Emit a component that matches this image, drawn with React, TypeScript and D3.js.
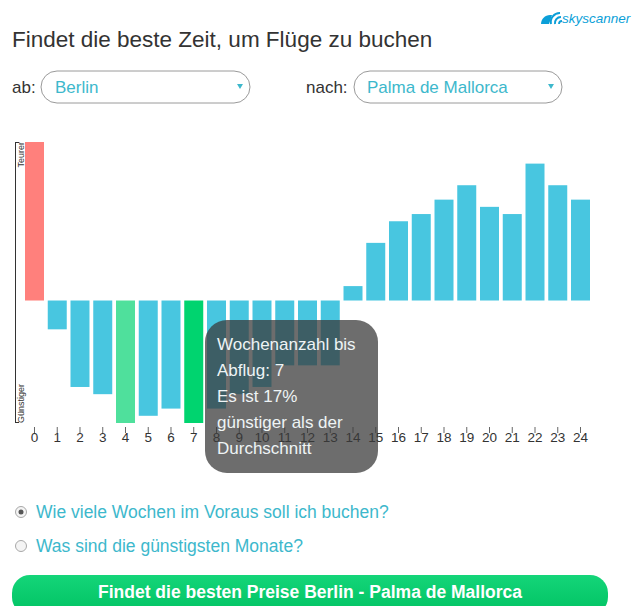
import React from 'react';
import * as d3 from 'd3';

// weeks before departure and price deviation from average (%)
const weeks = d3.range(0, 25).map(String);
const deviation = [22, -4, -12, -13, -17, -16, -15, -17, -15, -13, -12, -9, -9, -9, 2, 8, 11, 12, 14, 16, 13, 12, 19, 16, 14];
const hoveredWeek = 7;
const tooltipLines = ['Wochenanzahl bis', 'Abflug: 7', 'Es ist 17%', 'günstiger als der', 'Durchschnitt'];
const questions = ['Wie viele Wochen im Voraus soll ich buchen?', 'Was sind die günstigsten Monate?'];

const FONT = '"Liberation Sans", Arial, sans-serif';
const TEAL = '#3db8cc';

const App: React.FC = () => {
  const x = d3.scaleBand<string>().domain(weeks).range([25, 590]).paddingInner(0.165).paddingOuter(0);
  const y = d3
    .scaleLinear()
    .domain([d3.min(deviation) ?? 0, d3.max(deviation) ?? 1])
    .range([423, 142]);

  const maxIdx = d3.maxIndex(deviation);
  const minIdx = d3.minIndex(deviation);
  const colorFor = (i: number) => {
    if (i === maxIdx) return '#ff807c';
    if (i === hoveredWeek) return '#00d46f';
    if (i === minIdx) return '#4fe09c';
    return '#48c6e0';
  };

  const [y0, y1] = y.range();

  return (
    <svg
      width={640}
      height={606}
      style={{ position: 'absolute', left: 0, top: 0, fontFamily: FONT }}
    >
      <rect width={640} height={606} fill="#fff" />

      {/* logo */}
      <g fill="#0b9fd8">
        <path d="M541,24 C541,19 545,15 550,15 L552,15 L549,24 Z" />
        <path d="M551,24 A9,9 0 0 1 560,13" fill="none" stroke="#0b9fd8" strokeWidth={2} />
        <path d="M555,24 A6,6 0 0 1 561,17" fill="none" stroke="#0b9fd8" strokeWidth={2} />
        <path d="M559,24 A3,3 0 0 1 562,21" fill="none" stroke="#0b9fd8" strokeWidth={1.8} />
        <text x={562} y={23} fontSize={13.5} fontStyle="italic" fill="#0b9fd8">skyscanner</text>
      </g>

      <text x={12} y={47} fontSize={22.5} fill="#333">Findet die beste Zeit, um Flüge zu buchen</text>

      {/* selects */}
      <text x={12} y={93} fontSize={17} fill="#333">ab:</text>
      <rect x={41} y={71} width={209} height={32} rx={16} fill="#fff" stroke="#9a9a9a" />
      <text x={55} y={93} fontSize={17} fill={TEAL}>Berlin</text>
      <path d="M237,84 L243,84 L240,89 Z" fill={TEAL} />

      <text x={306} y={93} fontSize={17} fill="#333">nach:</text>
      <rect x={354} y={71} width={208} height={32} rx={16} fill="#fff" stroke="#9a9a9a" />
      <text x={367} y={93} fontSize={17} fill={TEAL}>Palma de Mallorca</text>
      <path d="M548,84 L554,84 L551,89 Z" fill={TEAL} />

      {/* side axis */}
      <g stroke="#333" strokeWidth={1}>
        <line x1={15.5} x2={15.5} y1={y1} y2={y0} />
        <line x1={15.5} x2={19} y1={y1 + 0.5} y2={y1 + 0.5} />
        <line x1={15.5} x2={19} y1={y0 - 0.5} y2={y0 - 0.5} />
      </g>
      <text transform={`translate(24,${y1}) rotate(-90)`} textAnchor="end" fontSize={9} fill="#333">Teurer</text>
      <text transform={`translate(24,${y0}) rotate(-90)`} textAnchor="start" fontSize={9} fill="#333">Günstiger</text>

      {/* bars */}
      {deviation.map((v, i) => (
        <rect
          key={i}
          x={x(weeks[i])}
          width={x.bandwidth()}
          y={Math.min(y(v), y(0))}
          height={Math.abs(y(v) - y(0))}
          fill={colorFor(i)}
        />
      ))}

      {/* week ticks */}
      {weeks.map((w) => {
        const cx = (x(w) ?? 0) + x.bandwidth() / 2;
        return (
          <g key={w}>
            <line x1={cx} x2={cx} y1={427} y2={433} stroke="#666" />
            <text x={cx} y={442} textAnchor="middle" fontSize={13.5} fill="#333">{w}</text>
          </g>
        );
      })}

      {/* tooltip */}
      <rect x={205} y={320} width={173} height={153} rx={22} fill="rgb(58,58,58)" fillOpacity={0.74} />
      {tooltipLines.map((t, i) => (
        <text key={t} x={217} y={350 + i * 26} fontSize={17} fill="#eef4f5">{t}</text>
      ))}

      {/* radios */}
      {questions.map((q, i) => (
        <g key={q}>
          <circle cx={21} cy={512 + i * 34} r={5.5} fill="#f4f4f4" stroke="#a8a8a8" />
          {i === 0 && <circle cx={21} cy={512} r={2.5} fill="#555" />}
          <text x={36} y={518 + i * 34} fontSize={17.5} fill={TEAL}>{q}</text>
        </g>
      ))}

      {/* button */}
      <defs>
        <linearGradient id="btn" x1="0" x2="0" y1="0" y2="1">
          <stop offset="0" stopColor="#14d579" />
          <stop offset="1" stopColor="#00c262" />
        </linearGradient>
      </defs>
      <rect x={12} y={575} width={596} height={40} rx={18} fill="url(#btn)" />
      <text x={310} y={598} textAnchor="middle" fontSize={17.5} fontWeight="bold" fill="#fff">
        Findet die besten Preise Berlin - Palma de Mallorca
      </text>
    </svg>
  );
};

export default App;
